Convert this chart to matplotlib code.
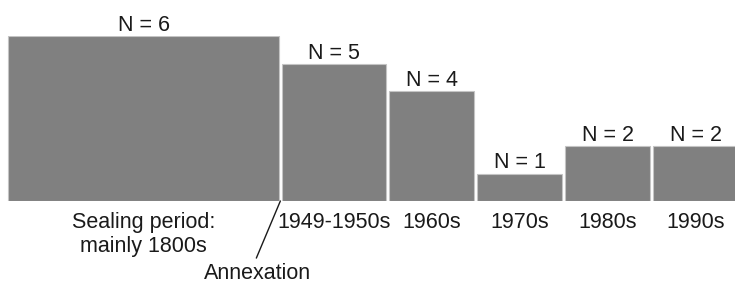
import matplotlib
matplotlib.use("Agg")
import matplotlib.pyplot as plt

plt.rcParams['font.family'] = ['Liberation Sans', 'DejaVu Sans']

# Periods, sample counts and period widths (in decades)
periods = ["Sealing period:\nmainly 1800s", "1949-1950s", "1960s", "1970s", "1980s", "1990s"]
counts = [6, 5, 4, 1, 2, 2]
widths = [3.11, 1.22, 1.0, 1.0, 1.0, 1.0]
annex_label = "Annexation"

BAR_COLOR = "#808080"
EDGE_COLOR = "#c4c4c4"
TEXT_COLOR = "#1a1a1a"
FS = 15.5
GAP = 0.03

W, H = 735, 286
px_per_unit = 88.0
x_left_px = 8
bottom_px = 201
px_per_n = 27.5

fig = plt.figure(figsize=(W / 100, H / 100), dpi=100)
ax = fig.add_axes([0, (H - bottom_px) / H, 1, 6 * px_per_n / H])

# left edges from cumulative widths
lefts = []
pos = 0.0
for w in widths:
    lefts.append(pos)
    pos += w

ax.bar(lefts, counts, width=[w - GAP for w in widths], align='edge',
       color=BAR_COLOR, edgecolor=EDGE_COLOR, linewidth=0.8)

centers = [l + (w - GAP) / 2 for l, w in zip(lefts, widths)]
for cx, n in zip(centers, counts):
    ax.text(cx, n, f"N = {n}", ha='center', va='bottom', fontsize=FS,
            color=TEXT_COLOR, clip_on=False)

ax.set_xticks(centers)
ax.set_xticklabels(periods, fontsize=FS, color=TEXT_COLOR, linespacing=1.2)
ax.tick_params(axis='x', length=0, pad=8)
ax.set_yticks([])

ax.set_xlim(-x_left_px / px_per_unit, (W - x_left_px) / px_per_unit)
ax.set_ylim(0, 6)
for s in ax.spines.values():
    s.set_visible(False)

# Annexation marker at the boundary between sealing period and 1949
ax.annotate(annex_label, xy=(lefts[1] - GAP / 2, 0), xycoords='data',
            xytext=(-16.6, -52.5), textcoords='offset points',
            ha='center', va='center', fontsize=FS, color=TEXT_COLOR,
            annotation_clip=False,
            arrowprops=dict(arrowstyle='-', color=TEXT_COLOR, lw=1.0,
                            shrinkB=0, relpos=(0.47, 1.0)))

fig.savefig("out.png", dpi=100)
